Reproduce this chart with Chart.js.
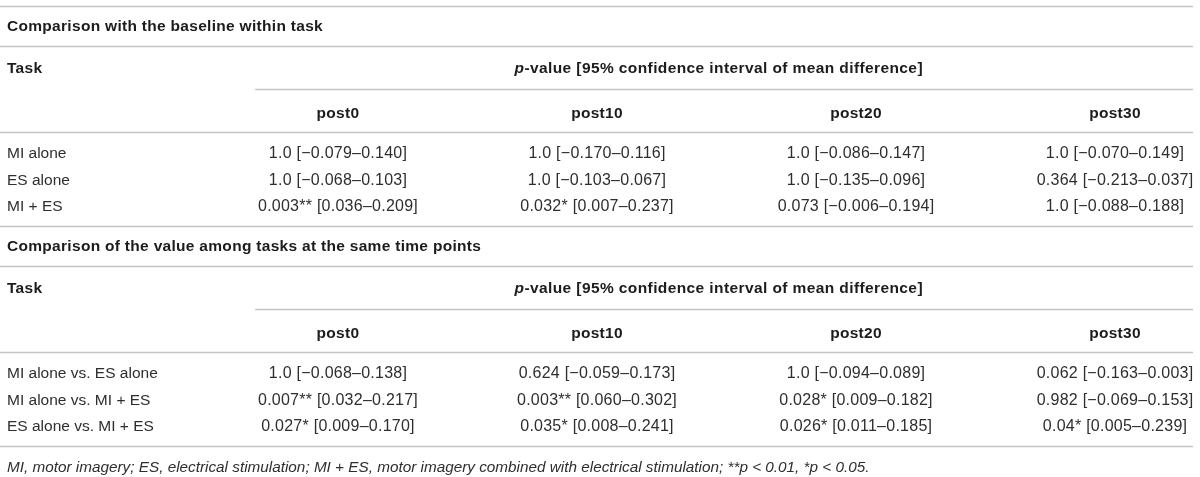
<!DOCTYPE html>
<html>
<head>
<meta charset="utf-8">
<script src="https://cdn.jsdelivr.net/npm/chart.js@4.4.0/dist/chart.umd.min.js"></script>
<style>
  html, body { margin: 0; padding: 0; background: #fff; }
</style>
</head>
<body>
<canvas id="table" width="1200" height="477"></canvas>
<script>
const timePoints = ["post0", "post10", "post20", "post30"];
const sectionTitles = [
  "Comparison with the baseline within task",
  "Comparison of the value among tasks at the same time points"
];
const rowHeader = "Task";
const spanHeader = ["p", "-value [95% confidence interval of mean difference]"];

// within task, vs baseline
const baselineTasks = ["MI alone", "ES alone", "MI + ES"];
const baselineP = [
  ["1.0", "1.0", "1.0", "1.0"],
  ["1.0", "1.0", "1.0", "0.364"],
  ["0.003", "0.032", "0.073", "1.0"]
];
const baselineLow = [
  [-0.079, -0.170, -0.086, -0.070],
  [-0.068, -0.103, -0.135, -0.213],
  [0.036, 0.007, -0.006, -0.088]
];
const baselineHigh = [
  [0.140, 0.116, 0.147, 0.149],
  [0.103, 0.067, 0.096, 0.037],
  [0.209, 0.237, 0.194, 0.188]
];

// among tasks, same time point
const amongTasks = ["MI alone vs. ES alone", "MI alone vs. MI + ES", "ES alone vs. MI + ES"];
const amongP = [
  ["1.0", "0.624", "1.0", "0.062"],
  ["0.007", "0.003", "0.028", "0.982"],
  ["0.027", "0.035", "0.026", "0.04"]
];
const amongLow = [
  [-0.068, -0.059, -0.094, -0.163],
  [0.032, 0.060, 0.009, -0.069],
  [0.009, 0.008, 0.011, 0.005]
];
const amongHigh = [
  [0.138, 0.173, 0.089, 0.003],
  [0.217, 0.302, 0.182, 0.153],
  [0.170, 0.241, 0.185, 0.239]
];

const footnote = "MI, motor imagery; ES, electrical stimulation; MI + ES, motor imagery combined with electrical stimulation; **p < 0.01, *p < 0.05.";

// layout (y scale runs in pixel-like units, top to bottom)
const tableTop = 6;
const titleH = 40;
const headH = 43;
const head2Offset = 24;
const bodyH = 94;
const bodyPad = 20.7;
const rowPitch = 26.65;
const sectionH = titleH + 2 * headH + bodyH;
const xMin = -0.305;
const xMax = 4.301;
const spanStart = 0.68;
const spanMid = 2.47;
const textPad = 7;
const textNudge = 1;

const FONT = "'Liberation Sans', Arial, Helvetica, sans-serif";
const textColor = "#2e2e2e";
const boldColor = "#1c1c1c";
const ruleColor = "#c4c4c4";

const fmt = (n) => (n < 0 ? "\u2212" : "") + Math.abs(n).toFixed(3);
const stars = (p) => (parseFloat(p) < 0.01 ? "**" : parseFloat(p) < 0.05 ? "*" : "");
const cellText = (p, lo, hi) => p + stars(p) + " [" + fmt(lo) + "\u2013" + fmt(hi) + "]";

const rowY = (s, i) => tableTop + s * sectionH + titleH + 2 * headH + bodyPad + i * rowPitch;

const sections = [
  { tasks: baselineTasks, p: baselineP, lo: baselineLow, hi: baselineHigh },
  { tasks: amongTasks, p: amongP, lo: amongLow, hi: amongHigh }
];

const taskPoints = [];
sections.forEach((sec, s) => {
  sec.tasks.forEach((t, i) => taskPoints.push({ x: xMin, y: rowY(s, i), label: t }));
});

const cellDatasets = timePoints.map((tp, j) => {
  const pts = [];
  sections.forEach((sec, s) => {
    sec.tasks.forEach((t, i) => {
      pts.push({ x: j + 1, y: rowY(s, i), label: cellText(sec.p[i][j], sec.lo[i][j], sec.hi[i][j]) });
    });
  });
  return { label: tp, data: pts, pointRadius: 0, kind: "cell" };
});

const tablePlugin = {
  id: "tableText",
  afterDatasetsDraw(chart) {
    const { ctx, chartArea, scales: { x, y } } = chart;
    ctx.save();

    const rule = (yv, fromX) => {
      const py = Math.round(y.getPixelForValue(yv)) + 0.5;
      ctx.beginPath();
      ctx.moveTo(fromX === undefined ? chartArea.left : x.getPixelForValue(fromX), py);
      ctx.lineTo(chartArea.right, py);
      ctx.strokeStyle = ruleColor;
      ctx.lineWidth = 1.5;
      ctx.stroke();
    };

    sections.forEach((sec, s) => {
      const y0 = tableTop + s * sectionH;
      rule(y0);
      rule(y0 + titleH);
      rule(y0 + titleH + headH, spanStart);
      rule(y0 + titleH + 2 * headH);

      ctx.textBaseline = "middle";
      ctx.fillStyle = boldColor;
      ctx.font = "bold 15.5px " + FONT;
      ctx.letterSpacing = "0.3px";
      ctx.textAlign = "left";
      const left = chartArea.left + textPad;
      ctx.fillText(sectionTitles[s], left, y.getPixelForValue(y0 + titleH / 2) + textNudge);
      ctx.fillText(rowHeader, left, y.getPixelForValue(y0 + titleH + headH / 2) + textNudge);

      // spanning header, italic p + bold rest
      const hy = y.getPixelForValue(y0 + titleH + headH / 2) + textNudge;
      ctx.letterSpacing = "0.4px";
      ctx.font = "italic bold 15.5px " + FONT;
      const w1 = ctx.measureText(spanHeader[0]).width;
      ctx.font = "bold 15.5px " + FONT;
      const w2 = ctx.measureText(spanHeader[1]).width;
      const sx = x.getPixelForValue(spanMid) - (w1 + w2) / 2;
      ctx.font = "italic bold 15.5px " + FONT;
      ctx.fillText(spanHeader[0], sx, hy);
      ctx.font = "bold 15.5px " + FONT;
      ctx.fillText(spanHeader[1], sx + w1, hy);

      ctx.letterSpacing = "0.3px";
      ctx.textAlign = "center";
      timePoints.forEach((tp, j) => {
        ctx.fillText(tp, x.getPixelForValue(j + 1), y.getPixelForValue(y0 + titleH + headH + head2Offset) + textNudge);
      });
    });
    rule(tableTop + 2 * sectionH);

    // body cells, placed at each point's position
    chart.data.datasets.forEach((ds, d) => {
      const meta = chart.getDatasetMeta(d);
      ctx.fillStyle = textColor;
      ctx.textBaseline = "middle";
      if (ds.kind === "task") {
        ctx.font = "15.5px " + FONT;
        ctx.textAlign = "left";
        ctx.letterSpacing = "0px";
      } else {
        ctx.font = "16px " + FONT;
        ctx.textAlign = "center";
        ctx.letterSpacing = "0.25px";
      }
      meta.data.forEach((el, i) => {
        const off = ds.kind === "task" ? textPad : 0;
        ctx.fillText(ds.data[i].label, el.x + off, el.y + textNudge);
      });
    });

    ctx.letterSpacing = "0px";
    ctx.textAlign = "left";
    ctx.font = "italic 15.3px " + FONT;
    ctx.fillStyle = textColor;
    ctx.fillText(footnote, chartArea.left + textPad, y.getPixelForValue(tableTop + 2 * sectionH + 21) + textNudge);
    ctx.restore();
  }
};

new Chart(document.getElementById("table"), {
  type: "scatter",
  data: {
    datasets: [{ label: rowHeader, data: taskPoints, pointRadius: 0, kind: "task" }].concat(cellDatasets)
  },
  options: {
    responsive: false,
    animation: false,
    events: [],
    layout: { padding: { left: 0, right: 7, top: 0, bottom: 0 } },
    plugins: { legend: { display: false }, tooltip: { enabled: false } },
    scales: {
      x: { type: "linear", min: xMin, max: xMax, display: false },
      y: { type: "linear", min: 0, max: 477, reverse: true, display: false }
    }
  },
  plugins: [tablePlugin]
});
</script>
</body>
</html>
